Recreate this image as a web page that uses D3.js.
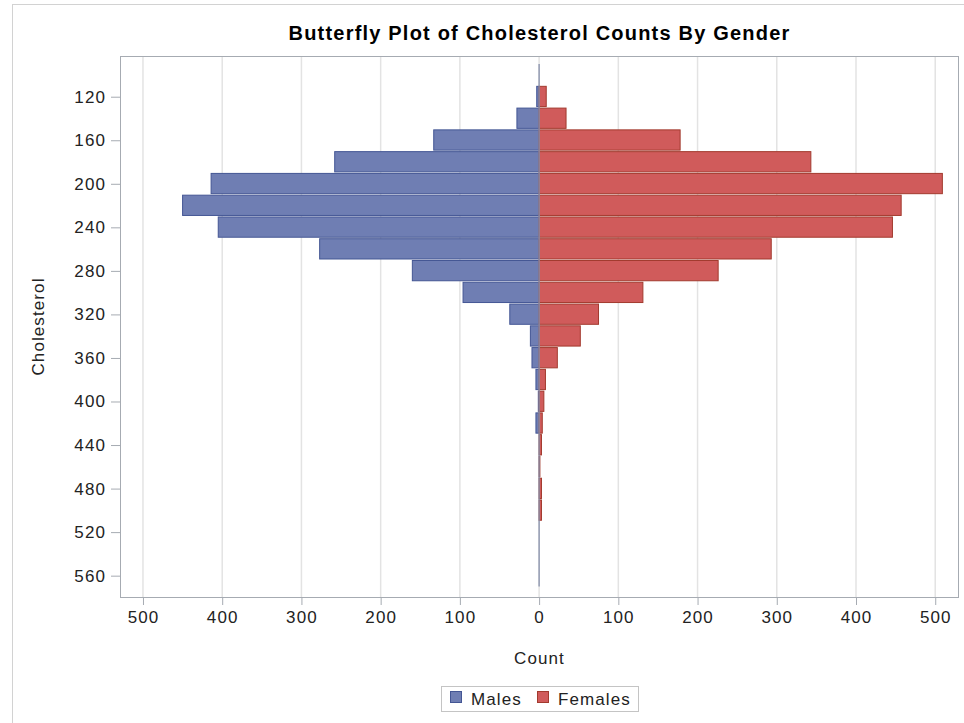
<!DOCTYPE html>
<html><head><meta charset="utf-8">
<script src="https://cdn.jsdelivr.net/npm/d3@7"></script>
<style>body{margin:0;background:#fff}svg text{font-family:"Liberation Sans",Arial,sans-serif}</style>
</head><body><svg id="c" width="964" height="723"></svg>
<script>
const title = "Butterfly Plot of Cholesterol Counts By Gender";
const categories = [100,120,140,160,180,200,220,240,260,280,300,320,340,360,380,400,420,440,460,480,500,520,540,560];
const males   = [0,3,28,133,258,414,450,405,277,160,96,37,11,9,4,1,4,0,0,0,0,0,0,0];
const females = [0,9,34,178,343,509,457,446,293,226,131,75,52,23,8,6,4,3,1,3,3,0,0,0];
const seriesNames = ["Males","Females"];
const xTicks = [-500,-400,-300,-200,-100,0,100,200,300,400,500];
const yTicks = [120,160,200,240,280,320,360,400,440,480,520,560];
const binWidth = 20;

const svg = d3.select("#c");
const colors = {Males:{fill:"#6F7EB3",stroke:"#445694"},Females:{fill:"#D05B5B",stroke:"#A23A2E"}};
const L=120, R=959, T=56, B=597;
const FS=17, LS=1.1;

const x = d3.scaleLinear().domain([-529,530]).range([L,R]);
const y = d3.scaleLinear().domain([82.6,579.6]).range([T,B]);

// outer border
svg.append("rect").attr("x",12.5).attr("y",4.5).attr("width",970).attr("height",740)
  .attr("fill","none").attr("stroke","#d2d2d2");

// title
svg.append("text").attr("x",(L+R)/2).attr("y",40).attr("text-anchor","middle")
  .attr("font-size",20).attr("font-weight","bold").attr("letter-spacing",1.2).attr("fill","#000").text(title);

// grid
svg.append("g").selectAll("line").data(xTicks).join("line")
  .attr("x1",d=>x(d)).attr("x2",d=>x(d)).attr("y1",T).attr("y2",B)
  .attr("stroke","#e3e3e3").attr("stroke-width",1.5);

const bh = y(binWidth)-y(0);
const rows = categories.map((c,i)=>({c,m:males[i],f:females[i]}));

// male bars
svg.append("g").selectAll("rect").data(rows.filter(d=>d.m>0)).join("rect")
  .attr("x",d=>x(-d.m)).attr("width",d=>x(0)-x(-d.m))
  .attr("y",d=>y(d.c-binWidth/2)+0.5).attr("height",bh-1.5)
  .attr("fill",colors.Males.fill).attr("stroke",colors.Males.stroke).attr("stroke-width",1);
// female bars
svg.append("g").selectAll("rect").data(rows.filter(d=>d.f>0)).join("rect")
  .attr("x",x(0)).attr("width",d=>x(d.f)-x(0))
  .attr("y",d=>y(d.c-binWidth/2)+0.5).attr("height",bh-1.5)
  .attr("fill",colors.Females.fill).attr("stroke",colors.Females.stroke).attr("stroke-width",1);

// zero line
svg.append("line").attr("x1",x(0)).attr("x2",x(0))
  .attr("y1",y(categories[0]-binWidth/2)).attr("y2",y(categories[categories.length-1]+binWidth/2))
  .attr("stroke","#8690ab").attr("stroke-width",1.3);

// frame
svg.append("rect").attr("x",L+0.5).attr("y",T+0.5).attr("width",R-L-1).attr("height",B-T)
  .attr("fill","none").attr("stroke","#a6abb2");

// x axis
const xa = svg.append("g").attr("transform",`translate(0,${B})`)
  .call(d3.axisBottom(x).tickValues(xTicks).tickFormat(d=>Math.abs(d)).tickSize(8).tickPadding(6));
xa.select(".domain").remove();
xa.selectAll("line").attr("stroke","#a6abb2");
xa.selectAll("text").attr("font-size",FS).attr("letter-spacing",LS).attr("fill","#222")
  .attr("font-family","Liberation Sans, Arial, sans-serif");

// y axis
const ya = svg.append("g").attr("transform",`translate(${L},0)`)
  .call(d3.axisLeft(y).tickValues(yTicks).tickSize(9).tickPadding(5));
ya.select(".domain").remove();
ya.selectAll("line").attr("stroke","#a6abb2");
ya.selectAll("text").attr("font-size",FS).attr("letter-spacing",LS).attr("fill","#222")
  .attr("font-family","Liberation Sans, Arial, sans-serif");

// axis titles
svg.append("text").attr("x",(L+R)/2).attr("y",664).attr("text-anchor","middle")
  .attr("font-size",FS).attr("letter-spacing",LS).attr("fill","#222").text("Count");
svg.append("text").attr("transform",`translate(44,${(T+B)/2}) rotate(-90)`).attr("text-anchor","middle")
  .attr("font-size",FS).attr("letter-spacing",LS).attr("fill","#222").text("Cholesterol");

// legend
const lg = svg.append("g");
lg.append("rect").attr("x",441.5).attr("y",686.5).attr("width",197).attr("height",25)
  .attr("fill","#fff").attr("stroke","#c4c4c4");
const legX = [450,537];
seriesNames.forEach((s,i)=>{
  lg.append("rect").attr("x",legX[i]+0.5).attr("y",691.5).attr("width",11).attr("height",11)
    .attr("fill",colors[s].fill).attr("stroke",colors[s].stroke);
  lg.append("text").attr("x",legX[i]+21).attr("y",705).attr("font-size",FS).attr("letter-spacing",LS)
    .attr("fill","#222").text(s);
});
</script></body></html>
